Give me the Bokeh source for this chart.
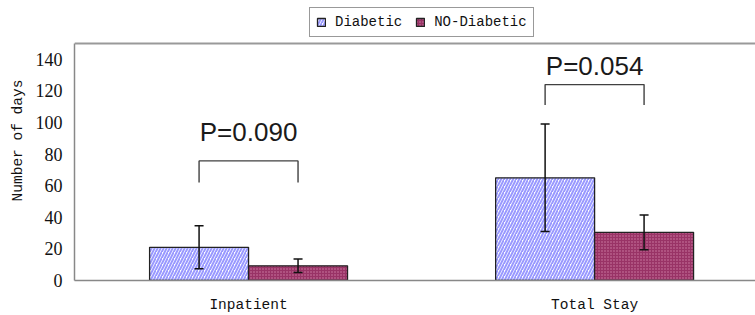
from bokeh.plotting import figure
from bokeh.models import (ColumnDataSource, Whisker, TeeHead, FixedTicker, Legend,
                          LegendItem, Span, Range1d)
from bokeh.core.properties import value
from bokeh.embed import file_html
from bokeh.resources import INLINE

# ---- data ----
categories = ["Inpatient", "Total Stay"]
diabetic = [21.0, 65.0]
diabetic_err = [13.6, 34.0]
nodiabetic = [9.3, 30.5]
nodiabetic_err = [4.3, 11.0]
p_labels = ["P=0.090", "P=0.054"]
bracket_top = [75.7, 124.0]
bracket_bottom = [62.0, 111.0]
p_label_y = [94.0, 136.0]
y_ticks = [0, 20, 40, 60, 80, 100, 120, 140]
y_max = 150

# ---- layout ----
W, H = 755, 315
bar_w = 0.286
xc = [i + 1 for i in range(len(categories))]
xd = [c - bar_w / 2 for c in xc]
xn = [c + bar_w / 2 for c in xc]

p = figure(width=W, height=H, output_backend="svg", toolbar_location=None,
           x_range=Range1d(0.497, 2.465), y_range=Range1d(0, y_max * 280 / 237),
           min_border_left=74, min_border_top=0, min_border_bottom=35,
           min_border_right=0, background_fill_color="white",
           border_fill_color="white")
p.outline_line_color = None
p.xgrid.visible = False
p.ygrid.visible = False

src_d = ColumnDataSource(dict(x=xd, top=diabetic,
                              upper=[v + e for v, e in zip(diabetic, diabetic_err)],
                              lower=[v - e for v, e in zip(diabetic, diabetic_err)]))
src_n = ColumnDataSource(dict(x=xn, top=nodiabetic,
                              upper=[v + e for v, e in zip(nodiabetic, nodiabetic_err)],
                              lower=[v - e for v, e in zip(nodiabetic, nodiabetic_err)]))

r_d = p.vbar(x="x", top="top", width=bar_w, bottom=0, source=src_d,
             fill_color="white", hatch_pattern="/", hatch_color="#9999FF",
             hatch_scale=6, hatch_weight=2, line_color="#222222", line_width=1.3)
r_n = p.vbar(x="x", top="top", width=bar_w, bottom=0, source=src_n,
             fill_color="#993366", hatch_pattern=".", hatch_color="#D080A8",
             hatch_scale=3, hatch_weight=1, line_color="#222222", line_width=1.3)

for src in (src_d, src_n):
    w = Whisker(base="x", upper="upper", lower="lower", source=src, level="overlay",
                line_color="#111111", line_width=1.5,
                upper_head=TeeHead(size=9, line_width=1.5, line_color="#111111"),
                lower_head=TeeHead(size=9, line_width=1.5, line_color="#111111"))
    p.add_layout(w)

# brackets
bx = [[xd[i], xd[i], xn[i], xn[i]] for i in range(len(categories))]
by = [[bracket_bottom[i], bracket_top[i], bracket_top[i], bracket_bottom[i]]
      for i in range(len(categories))]
p.multi_line(xs=bx, ys=by, line_color="#404040", line_width=1.4)

# p-value labels
p.text(x=xc, y=p_label_y, text=p_labels, text_align="center",
       text_baseline="alphabetic", text_font=value("Liberation Sans"),
       text_font_size="26px", text_color="#1a1a1a")

# top border of the plot box
p.add_layout(Span(location=y_max, dimension="width", line_color="#999999", line_width=2))

# axes
p.xaxis.ticker = FixedTicker(ticks=xc)
p.xaxis.major_label_overrides = {c: lab for c, lab in zip(xc, categories)}
p.xaxis.major_tick_line_color = None
p.xaxis.minor_tick_line_color = None
p.xaxis.major_tick_out = 0
p.xaxis.axis_line_color = "#888888"
p.xaxis.axis_line_width = 1.5
p.xaxis.major_label_text_font = "Liberation Mono"
p.xaxis.major_label_text_font_size = "14.5px"
p.xaxis.major_label_text_color = "#111111"
p.xaxis.major_label_standoff = 16

p.yaxis.ticker = FixedTicker(ticks=y_ticks)
p.yaxis.bounds = (0, y_max)
p.yaxis.major_tick_line_color = None
p.yaxis.minor_tick_line_color = None
p.yaxis.major_tick_out = 0
p.yaxis.axis_line_color = "#888888"
p.yaxis.axis_line_width = 1.5
p.yaxis.major_label_text_font = "Liberation Serif"
p.yaxis.major_label_text_font_size = "18px"
p.yaxis.major_label_text_color = "#111111"
p.yaxis.major_label_standoff = 12
p.yaxis.axis_label = "Number of days"
p.yaxis.axis_label_text_font = "Liberation Mono"
p.yaxis.axis_label_text_font_size = "14.5px"
p.yaxis.axis_label_text_font_style = "normal"
p.yaxis.axis_label_text_color = "#111111"
p.yaxis.axis_label_standoff = 7

legend = Legend(items=[LegendItem(label="Diabetic", renderers=[r_d]),
                       LegendItem(label="NO-Diabetic", renderers=[r_n])],
                orientation="horizontal", location=(235, 243),
                padding=6, margin=0, spacing=13, label_standoff=9,
                glyph_width=10, glyph_height=10,
                label_text_font="Liberation Mono", label_text_font_size="14px",
                label_text_color="#111111",
                border_line_color="#333333", border_line_width=1,
                background_fill_color="white", background_fill_alpha=1)
p.add_layout(legend)

open("out.html", "w").write(file_html(p, INLINE))
